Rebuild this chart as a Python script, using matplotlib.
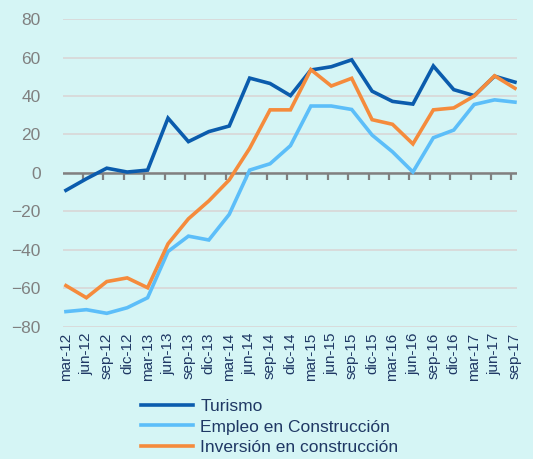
import matplotlib
matplotlib.use('Agg')
import matplotlib.pyplot as plt
import numpy as np

# ---- data ----
periods = ['mar-12', 'jun-12', 'sep-12', 'dic-12',
           'mar-13', 'jun-13', 'sep-13', 'dic-13',
           'mar-14', 'jun-14', 'sep-14', 'dic-14',
           'mar-15', 'jun-15', 'sep-15', 'dic-15',
           'mar-16', 'jun-16', 'sep-16', 'dic-16',
           'mar-17', 'jun-17', 'sep-17']
turismo = [-9, -3, 2.5, 0.5, 1.5, 28.5, 16.3, 21.5, 24.4, 49.3, 46.5, 40.2,
           53.5, 55.2, 58.8, 42.5, 37.2, 35.8, 55.6, 43.3, 40.2, 50.3, 47.2]
empleo = [-72, -71, -72.9, -70, -64.8, -40.8, -32.8, -34.8, -21.5, 1.5, 4.8, 14.2,
          34.8, 34.8, 33, 19.7, 11, 0.5, 18.3, 22.3, 35.6, 38, 36.8]
inversion = [-58.5, -64.8, -56.4, -54.5, -59.6, -36.8, -23.8, -14.5, -3.6, 12.8, 32.8, 32.8,
             53.7, 45.2, 49.2, 27.7, 25.3, 15.1, 32.8, 33.8, 40, 50.5, 44]
series_names = ['Turismo', 'Empleo en Construcción', 'Inversión en construcción']

# ---- style ----
BG = '#d5f5f5'
DARK_C, LIGHT_C, ORANGE_C = '#0b5cad', '#5cbef9', '#f58b3c'
AXIS_C, GRID_C, LABEL_C = '#808080', '#d9d9d9', '#1f3864'

plt.rcParams['font.family'] = ['Liberation Sans', 'DejaVu Sans']

fig = plt.figure(figsize=(5.33, 4.59), dpi=100, facecolor=BG)
ax = fig.add_axes([0.118, 0.2876, 0.852, 0.671])
ax.set_facecolor(BG)

x = np.arange(len(periods))
ax.axhline(0, color=AXIS_C, lw=1.8, zorder=1.5)
for vals, col, name in zip([turismo, empleo, inversion], [DARK_C, LIGHT_C, ORANGE_C], series_names):
    ax.plot(x, vals, color=col, lw=2.6, label=name, solid_joinstyle='miter', zorder=2)

ax.set_xlim(-0.15, 22.1)
ax.set_ylim(-80, 80)
ax.set_yticks(np.arange(-80, 81, 20))
ax.yaxis.grid(True, color=GRID_C, lw=1.3)
ax.set_axisbelow(True)
for s in ax.spines.values():
    s.set_visible(False)
ax.tick_params(axis='y', length=0, pad=16, labelsize=12.5, labelcolor=AXIS_C)

ax.set_xticks(x)
ax.set_xticklabels(periods, rotation=90, fontsize=11, color=LABEL_C)
ax.tick_params(axis='x', length=0, pad=4)

# category tick marks hanging from the zero line
zero_ax = ax.secondary_xaxis(0.4999)
zero_ax.set_xticks(x - 0.17)
zero_ax.set_xticklabels([])
for s in zero_ax.spines.values():
    s.set_visible(False)
zero_ax.tick_params(axis='x', direction='out', length=5, width=1.6, color=AXIS_C)

leg = fig.legend(loc='upper left', bbox_to_anchor=(0.252, 0.147), frameon=False,
                 fontsize=12.5, handlelength=3.0, handletextpad=0.4, labelspacing=0.33,
                 borderaxespad=0, labelcolor=LABEL_C)

fig.savefig('out.png', dpi=100, facecolor=BG)
